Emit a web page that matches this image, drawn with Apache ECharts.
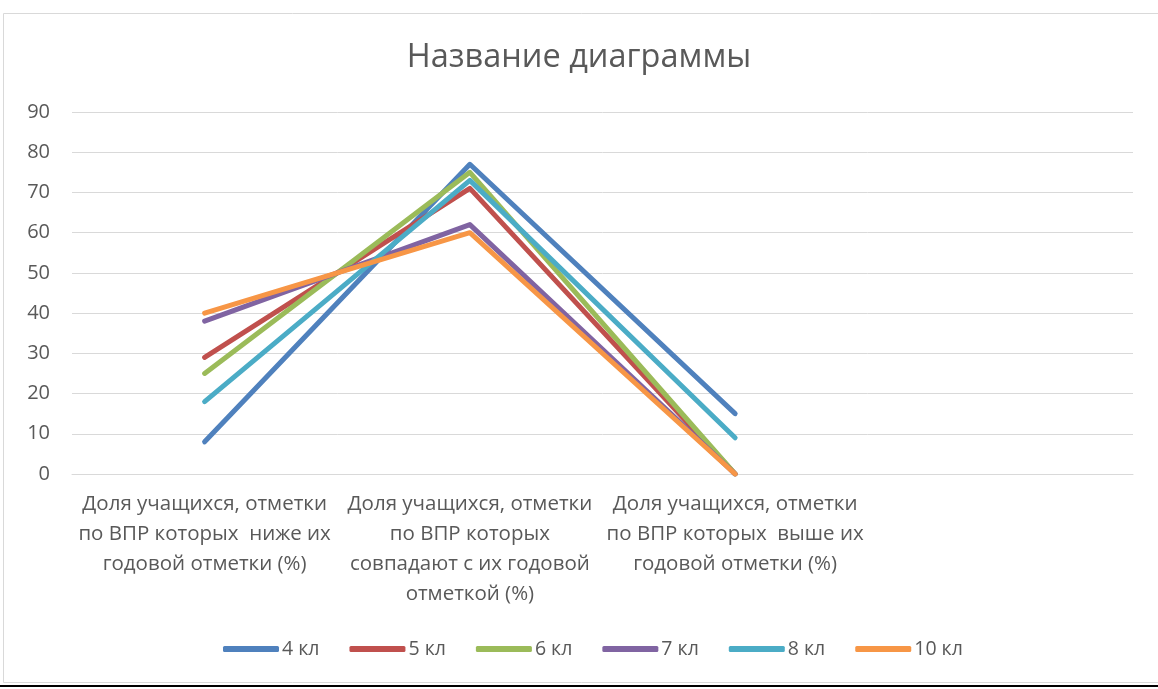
<!DOCTYPE html>
<html>
<head>
<meta charset="utf-8">
<script src="https://cdn.jsdelivr.net/npm/echarts@6/dist/echarts.min.js"></script>
<style>
  html, body { margin: 0; padding: 0; background: #fff; }
  #chart { width: 1158px; height: 689px; }
</style>
</head>
<body>
<div id="chart"></div>
<script>
// категории оси X (последняя пустая, как в исходной диаграмме)
const categories = [
    'Доля учащихся, отметки\nпо ВПР которых  ниже их\nгодовой отметки (%)',
    'Доля учащихся, отметки\nпо ВПР которых\nсовпадают с их годовой\nотметкой (%)',
    'Доля учащихся, отметки\nпо ВПР которых  выше их\nгодовой отметки (%)',
    ''
];
const seriesNames = ['4 кл', '5 кл', '6 кл', '7 кл', '8 кл', '10 кл'];
const kl4 = [8, 77, 15];
const kl5 = [29, 71, 0];
const kl6 = [25, 75, 0];
const kl7 = [38, 62, 0];
const kl8 = [18, 73, 9];
const kl10 = [40, 60, 0];
const yTicks = [0, 10, 20, 30, 40, 50, 60, 70, 80, 90];

const colors = ['#4F81BD', '#C0504D', '#9BBB59', '#8064A2', '#4BACC6', '#F79646'];
const values = [kl4, kl5, kl6, kl7, kl8, kl10];
const font = '"Open Sans", sans-serif';

const chart = echarts.init(document.getElementById('chart'));

chart.setOption({
    animation: false,
    color: colors,
    title: {
        text: 'Название диаграммы',
        left: 'center',
        top: 36,
        textStyle: { fontFamily: font, fontSize: 32.5, fontWeight: 'normal', color: '#595959' }
    },
    grid: { left: 72, right: 25, top: 112, height: 362 },
    legend: {
        bottom: 25,
        left: 218,
        itemWidth: 56,
        itemHeight: 6,
        itemGap: 30,
        icon: 'roundRect',
        textStyle: { fontFamily: font, fontSize: 19.5, color: '#595959', padding: [0, 0, 0, -2] },
        data: seriesNames
    },
    xAxis: {
        type: 'category',
        data: categories,
        boundaryGap: true,
        axisLine: { lineStyle: { color: '#d9d9d9', width: 1 } },
        axisTick: { show: false },
        axisLabel: {
            interval: 0,
            margin: 15,
            fontFamily: font,
            fontSize: 20.5,
            lineHeight: 30,
            color: '#595959'
        }
    },
    yAxis: {
        type: 'value',
        min: yTicks[0],
        max: yTicks[yTicks.length - 1],
        interval: 10,
        axisLine: { show: false },
        axisTick: { show: false },
        axisLabel: { fontFamily: font, fontSize: 20, color: '#595959', margin: 22 },
        splitLine: { lineStyle: { color: '#d9d9d9', width: 1 } }
    },
    graphic: [
        {
            type: 'rect',
            shape: { x: 3.5, y: 13.5, width: 1200, height: 669 },
            style: { fill: 'none', stroke: '#d9d9d9', lineWidth: 1 },
            silent: true
        },
        {
            type: 'rect',
            shape: { x: 0, y: 685, width: 1158, height: 2 },
            style: { fill: '#000' },
            silent: true
        }
    ],
    series: seriesNames.map((name, i) => ({
        name: name,
        type: 'line',
        data: values[i],
        showSymbol: false,
        symbol: 'none',
        lineStyle: { width: 5, cap: 'round', join: 'round' }
    }))
});
</script>
</body>
</html>
